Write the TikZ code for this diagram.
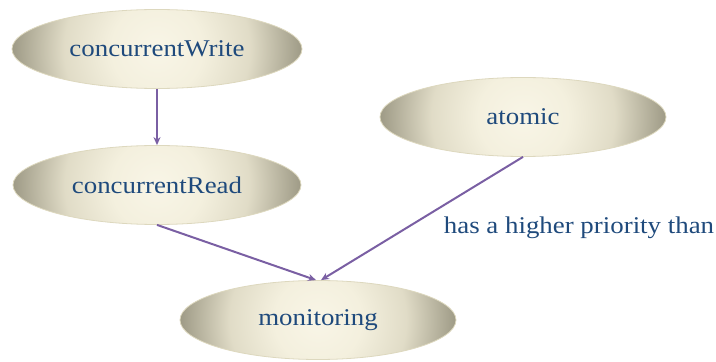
\documentclass[tikz,border=0pt]{standalone}
\usepackage{fontspec}
\setmainfont[FakeStretch=1.12]{Liberation Serif}
\usetikzlibrary{shapes.geometric,arrows.meta}
\definecolor{nodetext}{HTML}{1F4A7C}
\definecolor{linkcol}{HTML}{7A5FA3}
\definecolor{rimcol}{HTML}{DDD8BE}
\pgfdeclareradialshading{creamshade}{\pgfpoint{0bp}{0bp}}{%
  rgb(0bp)=(0.975,0.962,0.905);
  rgb(8bp)=(0.955,0.940,0.870);
  rgb(16bp)=(0.880,0.862,0.780);
  rgb(25bp)=(0.620,0.605,0.525);
  rgb(50bp)=(0.620,0.605,0.525)}

\begin{document}
\begin{tikzpicture}[x=1pt,y=1pt,
    bubble/.style={ellipse, draw=rimcol, line width=0.8pt,
      minimum width=#1, minimum height=79pt, inner sep=0pt,
      text=nodetext, font=\fontsize{24}{28}\selectfont,
      path picture={\shade[shading=creamshade]
        (path picture bounding box.center) circle (#1/2);}},
    link/.style={draw=linkcol, line width=2pt,
      -{Stealth[length=8pt,width=7pt]}}]
    \useasboundingbox (0,0) rectangle (716,362);

    % Ellipses
    \node[bubble=290pt] (cwrite) at (157,313) {concurrentWrite};
    \node[bubble=288pt] (cread) at (157,177) {concurrentRead};
    \node[bubble=286pt] (atomic) at (523,245) {atomic};
    \node[bubble=276pt] (monitor) at (318,42) {monitoring};

    % Label of the priority arrow
    \node[text=nodetext, font=\fontsize{24}{28}\selectfont] (prio) at (579,134) {has a higher priority than};

    % Arrows
    \draw[link] (cwrite) -- (cread);
    \draw[link] (cread.south) -- ([xshift=-2pt]monitor.north);
    \draw[link] (atomic.south) -- ([xshift=3pt]monitor.north);
\end{tikzpicture}
\end{document}
